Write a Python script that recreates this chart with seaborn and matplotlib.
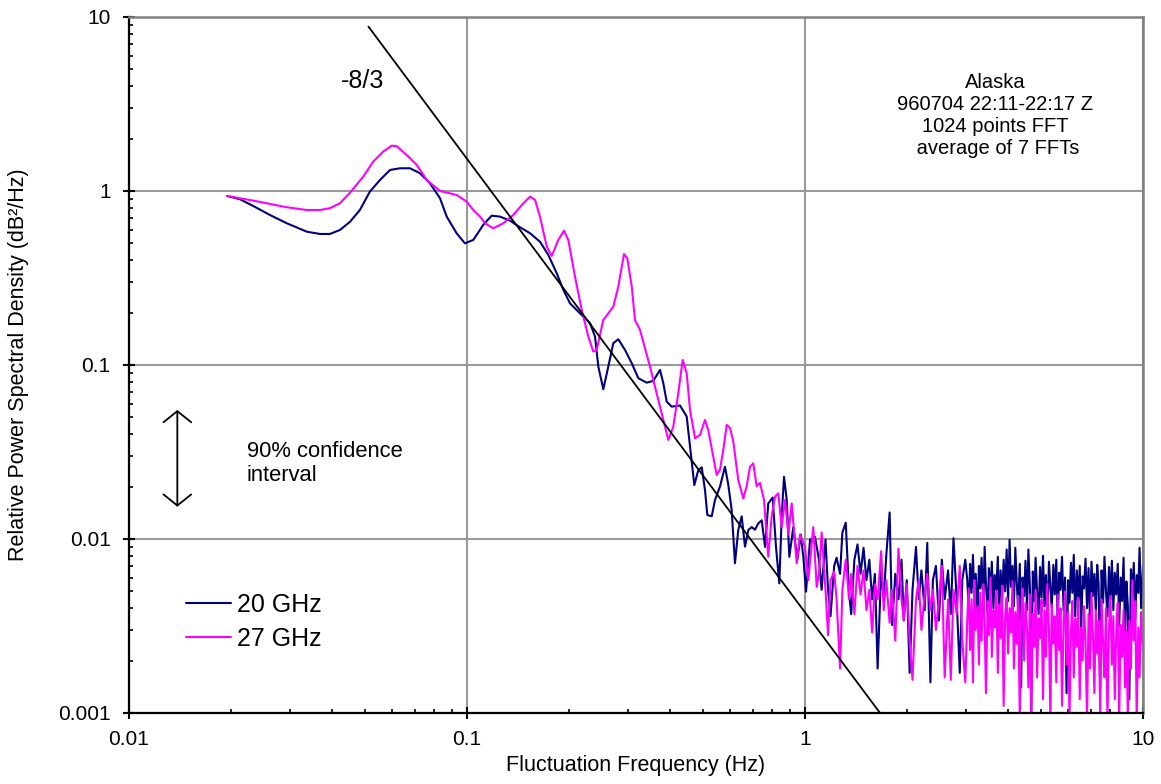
import numpy as np
import pandas as pd
import matplotlib
matplotlib.use("Agg")
import matplotlib.pyplot as plt
import seaborn as sns
from matplotlib.ticker import LogLocator, NullFormatter

## values
## 20 GHz, smooth low-frequency part
f20 = [0.0195, 0.0213, 0.0233, 0.0261, 0.0293, 0.0336, 0.0367, 0.0393, 0.0421, 0.0451,
       0.0482, 0.0516, 0.0553, 0.0592, 0.0634, 0.0678, 0.0726, 0.0777, 0.0832, 0.0871,
       0.0932, 0.0986, 0.1044, 0.1117, 0.1183, 0.1252, 0.1341, 0.1436, 0.1537, 0.1644,
       0.1740, 0.1843, 0.1928, 0.2017, 0.2159, 0.2312, 0.2392, 0.2447, 0.2531, 0.2618,
       0.2709, 0.2803, 0.2934, 0.3072, 0.3213, 0.3402, 0.3557, 0.3724, 0.3809, 0.3898,
       0.4032, 0.4267, 0.4467, 0.4569, 0.4705, 0.4835, 0.4948, 0.5060, 0.5140, 0.5297,
       0.5416, 0.5604, 0.5798, 0.5930, 0.6068, 0.6206, 0.6347, 0.6496, 0.6645, 0.6796,
       0.6955, 0.7114, 0.7275, 0.7446, 0.7618, 0.7787, 0.8024, 0.8207, 0.8395, 0.8533,
       0.8668, 0.8829, 0.8987, 0.9235, 0.9489, 0.9712, 0.9886, 1.007, 1.035, 1.070]
p20 = [0.936, 0.896, 0.820, 0.728, 0.652, 0.583, 0.566, 0.566, 0.597, 0.666,
       0.777, 0.991, 1.157, 1.320, 1.350, 1.350, 1.264, 1.107, 0.908, 0.712,
       0.571, 0.500, 0.523, 0.638, 0.721, 0.712, 0.675, 0.618, 0.571, 0.511,
       0.429, 0.336, 0.270, 0.226, 0.198, 0.174, 0.1455, 0.0977, 0.0725, 0.0977,
       0.1333, 0.1405, 0.122, 0.1023, 0.0839, 0.0791, 0.081, 0.0936, 0.0785, 0.0615,
       0.0576, 0.0585, 0.0505, 0.0339, 0.0204, 0.0249, 0.0258, 0.0191, 0.01374, 0.0135,
       0.01675, 0.020, 0.026, 0.0205, 0.01468, 0.00725, 0.01126, 0.0135, 0.00903, 0.01126,
       0.0117, 0.0113, 0.0123, 0.0128, 0.009, 0.016, 0.0173, 0.009, 0.00556, 0.0135,
       0.0228, 0.0168, 0.0079, 0.0117, 0.0076, 0.0106, 0.0079, 0.00498, 0.0099, 0.0103]

## 27 GHz, smooth low-frequency part
f27 = [0.0195, 0.0233, 0.0293, 0.0336, 0.0367, 0.0393, 0.0421, 0.0451, 0.0493, 0.0528,
       0.0565, 0.0599, 0.0619, 0.0663, 0.0710, 0.0760, 0.0832, 0.0932, 0.0998, 0.1044,
       0.1093, 0.1131, 0.1196, 0.1281, 0.1371, 0.1468, 0.1537, 0.1590, 0.1644, 0.1722,
       0.1781, 0.1863, 0.1936, 0.1994, 0.2087, 0.2185, 0.2286, 0.2364, 0.2419, 0.2531,
       0.2709, 0.2803, 0.2914, 0.2981, 0.3072, 0.3141, 0.3250, 0.3479, 0.3681, 0.3853,
       0.3941, 0.4077, 0.4218, 0.4347, 0.4467, 0.4569, 0.4728, 0.4891, 0.5060, 0.5175,
       0.5355, 0.5480, 0.5604, 0.5732, 0.5866, 0.6000, 0.6137, 0.6347, 0.6568, 0.6721,
       0.6875, 0.7031, 0.7195, 0.7359, 0.7562, 0.7787, 0.7970, 0.8151, 0.8337, 0.8533,
       0.8727, 0.8926, 0.9135, 0.9451, 0.9665, 1.000, 1.023, 1.058, 1.083]
p27 = [0.936, 0.880, 0.806, 0.777, 0.777, 0.796, 0.850, 0.978, 1.208, 1.474,
       1.682, 1.821, 1.81, 1.61, 1.411, 1.157, 1.0, 0.948, 0.868, 0.777,
       0.712, 0.652, 0.610, 0.652, 0.728, 0.850, 0.927, 0.888, 0.712, 0.478,
       0.423, 0.523, 0.591, 0.523, 0.322, 0.207, 0.1455, 0.1193, 0.122, 0.1814,
       0.216, 0.282, 0.434, 0.410, 0.282, 0.181, 0.159, 0.0977, 0.0630, 0.0442,
       0.0371, 0.0442, 0.0688, 0.1068, 0.0896, 0.0551, 0.0379, 0.0396, 0.0483, 0.0421,
       0.0297, 0.0233, 0.025, 0.0325, 0.0452, 0.0435, 0.0362, 0.0218, 0.0171, 0.0201,
       0.026, 0.0272, 0.0201, 0.021, 0.0168, 0.0079, 0.0135, 0.0175, 0.0183, 0.0117,
       0.0168, 0.0106, 0.016, 0.00725, 0.0106, 0.009, 0.0058, 0.0117, 0.0053]

## noisy part 1.1 - 3 Hz (both bands on the same frequencies)
f_mid = [1.10, 1.12, 1.15, 1.17, 1.19, 1.22, 1.24, 1.27, 1.29, 1.32,
         1.35, 1.37, 1.40, 1.43, 1.46, 1.49, 1.52, 1.55, 1.58, 1.61,
         1.64, 1.68, 1.71, 1.74, 1.78, 1.81, 1.85, 1.89, 1.93, 1.96,
         2.00, 2.04, 2.08, 2.13, 2.17, 2.21, 2.26, 2.30, 2.35, 2.39,
         2.44, 2.49, 2.54, 2.59, 2.65, 2.70, 2.75, 2.81, 2.87, 2.92,
         2.98]
p20_mid = [0.0076, 0.0051, 0.0099, 0.0051, 0.0036, 0.0070, 0.0078, 0.0063, 0.0109, 0.0124,
           0.0049, 0.0037, 0.0076, 0.0093, 0.0063, 0.0089, 0.0058, 0.0076, 0.0045, 0.0063,
           0.0018, 0.0066, 0.0045, 0.0081, 0.0142, 0.0032, 0.0063, 0.0045, 0.0076, 0.0034,
           0.0058, 0.0017, 0.0051, 0.0090, 0.0045, 0.0066, 0.0039, 0.0095, 0.0015, 0.0058,
           0.0070, 0.0034, 0.0076, 0.0045, 0.0066, 0.0037, 0.0101, 0.0045, 0.0017, 0.0058,
           0.0076]
p27_mid = [0.0063, 0.0109, 0.0051, 0.0028, 0.0058, 0.0065, 0.0045, 0.0018, 0.0051, 0.0076,
           0.0045, 0.0063, 0.0037, 0.0070, 0.0048, 0.0066, 0.0039, 0.0051, 0.0029, 0.0055,
           0.0045, 0.0085, 0.0039, 0.0058, 0.0033, 0.0051, 0.0026, 0.0088, 0.0045, 0.0034,
           0.0055, 0.0026, 0.00155, 0.0045, 0.0058, 0.0030, 0.0048, 0.0063, 0.0039, 0.0051,
           0.0030, 0.0045, 0.0070, 0.0016, 0.0045, 0.00155, 0.0051, 0.0037, 0.0070, 0.0026,
           0.0015]

## noisy part 3 - 10 Hz (denser)
f_hi = [3.02, 3.05, 3.08, 3.11, 3.14, 3.17, 3.20, 3.24, 3.27, 3.30,
        3.33, 3.37, 3.40, 3.43, 3.47, 3.50, 3.54, 3.57, 3.61, 3.64,
        3.68, 3.72, 3.75, 3.79, 3.83, 3.87, 3.91, 3.95, 3.99, 4.03,
        4.07, 4.11, 4.15, 4.19, 4.23, 4.27, 4.32, 4.36, 4.40, 4.45,
        4.49, 4.54, 4.58, 4.63, 4.67, 4.72, 4.77, 4.81, 4.86, 4.91,
        4.96, 5.01, 5.06, 5.11, 5.16, 5.21, 5.27, 5.32, 5.37, 5.43,
        5.48, 5.54, 5.59, 5.65, 5.70, 5.76, 5.82, 5.88, 5.94, 6.00,
        6.06, 6.12, 6.18, 6.24, 6.30, 6.37, 6.43, 6.50, 6.56, 6.63,
        6.69, 6.76, 6.83, 6.90, 6.97, 7.04, 7.11, 7.18, 7.25, 7.32,
        7.39, 7.47, 7.54, 7.62, 7.69, 7.77, 7.85, 7.93, 8.01, 8.09,
        8.17, 8.25, 8.33, 8.42, 8.50, 8.59, 8.67, 8.76, 8.85, 8.93,
        9.02, 9.11, 9.21, 9.30, 9.39, 9.49, 9.58, 9.68, 9.77, 9.87,
        10.0]
p20_hi = [0.0058, 0.0040, 0.0072, 0.0049, 0.0081, 0.0045, 0.0063, 0.0036, 0.0070, 0.0052,
          0.0078, 0.0042, 0.0090, 0.0055, 0.0037, 0.0068, 0.0048, 0.0074, 0.0040, 0.0062,
          0.0051, 0.0079, 0.0034, 0.0066, 0.0045, 0.0076, 0.0050, 0.0087, 0.0044, 0.0099,
          0.0053, 0.0070, 0.0041, 0.0089, 0.0057, 0.0040, 0.0072, 0.0014, 0.0060, 0.0047,
          0.0075, 0.0039, 0.0087, 0.0052, 0.00095, 0.0065, 0.0044, 0.0078, 0.0050, 0.0037,
          0.0069, 0.0046, 0.0080, 0.0041, 0.0062, 0.0035, 0.0074, 0.0053, 0.0040, 0.0071,
          0.0048, 0.0076, 0.0033, 0.0064, 0.0051, 0.0079, 0.0039, 0.0060, 0.0013, 0.0058,
          0.0043, 0.0073, 0.0049, 0.0081, 0.0036, 0.0066, 0.0045, 0.0070, 0.0030, 0.0061,
          0.0052, 0.0077, 0.0040, 0.0068, 0.0034, 0.0074, 0.0047, 0.0063, 0.0038, 0.0071,
          0.0055, 0.0014, 0.0066, 0.0043, 0.0079, 0.0050, 0.0036, 0.0069, 0.0045, 0.0075,
          0.0039, 0.0064, 0.0048, 0.0072, 0.0032, 0.0060, 0.0044, 0.0078, 0.0026, 0.0057,
          0.0041, 0.0012, 0.0067, 0.0046, 0.0073, 0.0035, 0.0062, 0.0049, 0.0089, 0.0040,
          0.0070]
p27_hi = [0.0034, 0.0052, 0.0023, 0.0045, 0.0015, 0.0058, 0.0030, 0.0041, 0.0019, 0.0049,
          0.0026, 0.0055, 0.0033, 0.0013, 0.0044, 0.0028, 0.0060, 0.0021, 0.0039, 0.0031,
          0.0050, 0.0017, 0.0042, 0.0027, 0.0054, 0.0011, 0.0036, 0.0046, 0.0022, 0.0040,
          0.0029, 0.0057, 0.0018, 0.0038, 0.0025, 0.0047, 0.0009, 0.0034, 0.0052, 0.0020,
          0.0043, 0.0030, 0.0014, 0.0048, 0.0009, 0.0037, 0.0024, 0.0051, 0.0016, 0.0035,
          0.0027, 0.0045, 0.0012, 0.0039, 0.0021, 0.0055, 0.0030, 0.0009, 0.0042, 0.0025,
          0.0036, 0.0015, 0.0048, 0.0023, 0.0040, 0.0011, 0.0033, 0.0050, 0.0019, 0.0038,
          0.0009, 0.0029, 0.0044, 0.0016, 0.0035, 0.0024, 0.0046, 0.0012, 0.0031, 0.0020,
          0.0041, 0.0026, 0.0009, 0.0037, 0.0018, 0.0049, 0.0028, 0.0013, 0.0039, 0.0022,
          0.0034, 0.0010, 0.0045, 0.0025, 0.0016, 0.0040, 0.0009, 0.0030, 0.0047, 0.0019,
          0.0036, 0.0012, 0.0028, 0.0043, 0.0009, 0.0032, 0.0021, 0.0039, 0.0014, 0.0030,
          0.0009, 0.0034, 0.0018, 0.0058, 0.0026, 0.0044, 0.0009, 0.0031, 0.0016, 0.0038,
          0.0023]

## -8/3 reference line (end points)
slope_f = [0.0511, 1.667]
slope_p = [8.8, 0.001]

bands = ["20 GHz", "27 GHz"]
band_colors = ["#000080", "#FF00FF"]

xticks = [0.01, 0.1, 1, 10]
xtick_labels = ["0.01", "0.1", "1", "10"]
yticks = [0.001, 0.01, 0.1, 1, 10]
ytick_labels = ["0.001", "0.01", "0.1", "1", "10"]

df = pd.concat([
    pd.DataFrame({"freq": f20 + f_mid + f_hi, "psd": p20 + p20_mid + p20_hi, "band": bands[0]}),
    pd.DataFrame({"freq": f27 + f_mid + f_hi, "psd": p27 + p27_mid + p27_hi, "band": bands[1]}),
], ignore_index=True)

sns.set_style("white")
plt.rcParams["font.family"] = ["Liberation Sans", "DejaVu Sans"]
plt.rcParams["text.color"] = "black"
plt.rcParams["axes.labelcolor"] = "black"

fig = plt.figure(figsize=(11.61, 7.84), dpi=100)
ax = fig.add_axes([0.1111, 0.0906, 0.8734, 0.8878])

sns.lineplot(data=df, x="freq", y="psd", hue="band", hue_order=bands,
             palette=band_colors, estimator=None, sort=False, lw=1.5, ax=ax)
ax.plot(slope_f, slope_p, color="black", lw=1.3)

ax.set_xscale("log")
ax.set_yscale("log")
ax.set_xlim(0.01, 10)
ax.set_ylim(0.001, 10)

ax.set_xticks(xticks)
ax.set_xticklabels(xtick_labels)
ax.set_yticks(yticks)
ax.set_yticklabels(ytick_labels)
ax.xaxis.set_minor_locator(LogLocator(base=10, subs=np.arange(2, 10)))
ax.yaxis.set_minor_locator(LogLocator(base=10, subs=np.arange(2, 10)))
ax.xaxis.set_minor_formatter(NullFormatter())
ax.yaxis.set_minor_formatter(NullFormatter())

ax.tick_params(which="major", direction="inout", length=8.5, width=1.5,
               labelsize=15, colors="black", left=True, bottom=True)
ax.tick_params(which="minor", direction="in", length=3, width=1.2,
               colors="black", left=True, bottom=True)
ax.tick_params(axis="x", which="major", pad=8)
ax.tick_params(axis="y", which="major", pad=9)

ax.grid(which="major", color="#999999", lw=1.5)
ax.grid(which="minor", visible=False)
for s in ["left", "bottom"]:
    ax.spines[s].set_color("black")
    ax.spines[s].set_linewidth(1.6)
for s in ["top", "right"]:
    ax.spines[s].set_color("#808080")
    ax.spines[s].set_linewidth(1.8)

ax.set_xlabel("Fluctuation Frequency (Hz)", fontsize=15.5, labelpad=4)
ax.set_ylabel("Relative Power Spectral Density (dB²/Hz)", fontsize=15.5, labelpad=21)

sns.move_legend(ax, "center left", bbox_to_anchor=(0.056, 0.131), title=None,
                frameon=False, fontsize=18, handlelength=1.8, handletextpad=0.25,
                labelspacing=0.4, borderpad=0, borderaxespad=0)

ax.text(0.0492, 4.26, "-8/3", fontsize=18, ha="center", va="center")
ax.text(0.0223, 0.027, "90% confidence\ninterval", fontsize=15.8,
        ha="left", va="center", linespacing=1.2)
ax.annotate("", xy=(0.0139, 0.0551), xytext=(0.0139, 0.01533),
            arrowprops=dict(arrowstyle="<->,head_length=0.8,head_width=1.0",
                            color="black", lw=1.3, shrinkA=0, shrinkB=0))
ax.text(3.65, 2.7, "Alaska\n960704 22:11-22:17 Z\n1024 points FFT\n average of 7 FFTs",
        fontsize=14.5, ha="center", va="center", multialignment="center",
        linespacing=1.2)

fig.savefig("out.png", dpi=100)
